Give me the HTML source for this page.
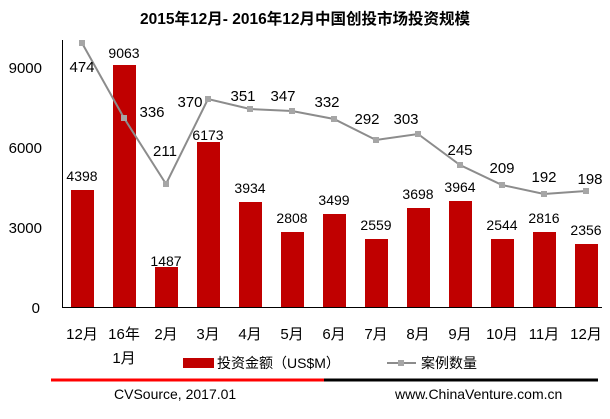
<!DOCTYPE html>
<html><head><meta charset="utf-8"><style>
body{margin:0;background:#fff;}
svg text{font-family:"Liberation Sans","Noto Sans CJK SC",sans-serif;}
</style></head><body>
<svg width="610" height="414" xmlns="http://www.w3.org/2000/svg">
<text x="305" y="24" text-anchor="middle" font-size="15.5" font-weight="bold" fill="#000">2015年12月- 2016年12月中国创投市场投资规模</text>
<g font-size="15" fill="#000" text-anchor="end">
<text x="42" y="73">9000</text><text x="42" y="153">6000</text><text x="42" y="233">3000</text><text x="40" y="313">0</text>
</g>
<line x1="62.5" y1="40" x2="62.5" y2="307" stroke="#000"/>
<line x1="62" y1="307.5" x2="602" y2="307.5" stroke="#000"/>
<g fill="#c00000">
<rect x="71" y="190" width="23" height="117"/>
<rect x="113" y="65" width="23" height="242"/>
<rect x="155" y="267" width="23" height="40"/>
<rect x="197" y="142" width="23" height="165"/>
<rect x="239" y="202" width="23" height="105"/>
<rect x="281" y="232" width="23" height="75"/>
<rect x="323" y="214" width="23" height="93"/>
<rect x="365" y="239" width="23" height="68"/>
<rect x="407" y="208" width="23" height="99"/>
<rect x="449" y="201" width="23" height="106"/>
<rect x="491" y="239" width="23" height="68"/>
<rect x="533" y="232" width="23" height="75"/>
<rect x="575" y="244" width="23" height="63"/>
</g>
<g font-size="14" fill="#000" text-anchor="middle">
<text x="82" y="181">4398</text><text x="124" y="58">9063</text><text x="166" y="266">1487</text>
<text x="208" y="140">6173</text><text x="250" y="193">3934</text><text x="292" y="223">2808</text>
<text x="334" y="205">3499</text><text x="376" y="230">2559</text><text x="418" y="199">3698</text>
<text x="460" y="192">3964</text><text x="502" y="230">2544</text><text x="544" y="223">2816</text>
<text x="586" y="235">2356</text>
</g>
<polyline fill="none" stroke="#8c8c8c" stroke-width="2" points="82,43 124,118 166,184 208,99 250,109 292,111 334,119 376,140 418,134 460,165 502,185 544,194 586,191"/>
<g fill="#a6a6a6">
<rect x="79" y="40" width="6" height="6"/><rect x="121" y="115" width="6" height="6"/><rect x="163" y="181" width="6" height="6"/>
<rect x="205" y="96" width="6" height="6"/><rect x="247" y="106" width="6" height="6"/><rect x="289" y="108" width="6" height="6"/>
<rect x="331" y="116" width="6" height="6"/><rect x="373" y="137" width="6" height="6"/><rect x="415" y="131" width="6" height="6"/>
<rect x="457" y="162" width="6" height="6"/><rect x="499" y="182" width="6" height="6"/><rect x="541" y="191" width="6" height="6"/>
<rect x="583" y="188" width="6" height="6"/>
</g>
<g font-size="15" fill="#000" text-anchor="middle">
<text x="82" y="72">474</text><text x="152" y="117">336</text><text x="165" y="156">211</text>
<text x="190" y="107">370</text><text x="243" y="101">351</text><text x="283" y="101">347</text>
<text x="327" y="107">332</text><text x="367" y="124">292</text><text x="406" y="124">303</text>
<text x="460" y="155">245</text><text x="502" y="173">209</text><text x="544" y="182">192</text>
<text x="590" y="184">198</text>
</g>
<g font-size="15" fill="#000" text-anchor="middle">
<text x="82" y="339">12月</text><text x="124" y="339">16年</text><text x="166" y="339">2月</text>
<text x="208" y="339">3月</text><text x="250" y="339">4月</text><text x="292" y="339">5月</text>
<text x="334" y="339">6月</text><text x="376" y="339">7月</text><text x="418" y="339">8月</text>
<text x="460" y="339">9月</text><text x="502" y="339">10月</text><text x="544" y="339">11月</text>
<text x="586" y="339">12月</text><text x="124" y="363">1月</text>
</g>
<rect x="183" y="358" width="31" height="10" fill="#c00000"/>
<text x="217" y="368" font-size="14" fill="#000">投资金额（US$M）</text>
<line x1="387" y1="363" x2="416" y2="363" stroke="#8c8c8c" stroke-width="2"/>
<rect x="398" y="360" width="6" height="6" fill="#a6a6a6"/>
<text x="421" y="368" font-size="14" fill="#000">案例数量</text>
<line x1="51" y1="380" x2="324" y2="380" stroke="#ff0000" stroke-width="3"/>
<line x1="324" y1="380" x2="598" y2="380" stroke="#000" stroke-width="3"/>
<text x="114" y="399" font-size="14" fill="#000">CVSource, 2017.01</text>
<text x="395" y="399" font-size="14" fill="#000">www.ChinaVenture.com.cn</text>
</svg>
</body></html>
